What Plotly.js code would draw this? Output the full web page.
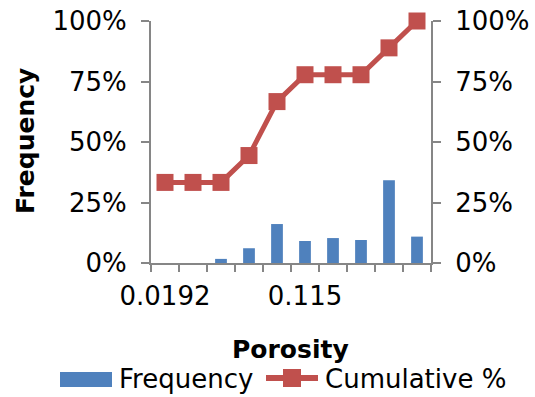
<!DOCTYPE html>
<html><head><meta charset="utf-8">
<script src="https://cdn.plot.ly/plotly-3.0.1.min.js"></script>
<style>html,body{margin:0;padding:0;background:#fff}#chart{width:535px;height:397px}</style>
</head><body><div id="chart"></div>
<script>
const categories = ['0.0192','0.0384','0.0575','0.0767','0.0958','0.115','0.134','0.153','0.172','0.192'];
const frequency = [0, 0, 0.017, 0.061, 0.161, 0.091, 0.103, 0.095, 0.342, 0.109];
const cumulative = [0.333, 0.333, 0.333, 0.444, 0.667, 0.778, 0.778, 0.778, 0.889, 1.0];
const tickLabelIdx = [0, 5];
const seriesNames = ['Frequency', 'Cumulative %'];

const idx = categories.map((c, i) => i);
const axisColor = '#868686';
const blue = '#4F81BD', red = '#C0504D';
const font = {family: 'Verdana, "DejaVu Sans", sans-serif', size: 26, color: '#000'};
const boldFont = Object.assign({}, font, {size: 25});

// plot area in pixels: x 151..431, y 21..263
const L = 151, R = 431, T = 21, B = 263;
const px = v => (v - L) / (R - L);
const py = v => (B - v) / (B - T);

const traces = [
  {type: 'bar', name: seriesNames[0], x: idx, y: frequency, width: 0.42,
   marker: {color: blue}, yaxis: 'y', hovertext: categories, showlegend: false},
  {type: 'scatter', mode: 'lines+markers', name: seriesNames[1], x: idx, y: cumulative,
   line: {color: red, width: 5}, marker: {symbol: 'square', size: 17, color: red},
   yaxis: 'y2', showlegend: false, cliponaxis: false}
];

const yCommon = {range: [0, 1], tickvals: [0, 0.25, 0.5, 0.75, 1], tickformat: '.0%',
  showgrid: false, zeroline: false, showline: true, linecolor: axisColor, linewidth: 2,
  ticks: 'outside', ticklen: 8, tickwidth: 2, tickcolor: axisColor, tickfont: font,
  ticklabelstandoff: 9, fixedrange: true};

const legY = 378;
const layout = {
  width: 535, height: 397,
  margin: {l: L, r: 535 - R, t: T, b: 397 - B},
  paper_bgcolor: '#fff', plot_bgcolor: '#fff',
  font: font,
  showlegend: false,
  xaxis: {range: [-0.5, 9.5], tickvals: tickLabelIdx, ticktext: tickLabelIdx.map(i => categories[i]),
    ticks: '', showgrid: false, zeroline: false, showline: true, linecolor: axisColor, linewidth: 2,
    tickfont: font, ticklabelstandoff: 9,
    minor: {ticks: 'outside', tick0: -0.5, dtick: 1, ticklen: 7, tickwidth: 2, tickcolor: axisColor, showgrid: false}},
  yaxis: yCommon,
  yaxis2: Object.assign({}, yCommon, {overlaying: 'y', side: 'right'}),
  shapes: [
    {type: 'rect', xref: 'paper', yref: 'paper', x0: px(60), x1: px(112), y0: py(387), y1: py(372),
     fillcolor: blue, line: {width: 0}},
    {type: 'line', xref: 'paper', yref: 'paper', x0: px(266), x1: px(318), y0: py(legY), y1: py(legY),
     line: {color: red, width: 6}},
    {type: 'rect', xref: 'paper', yref: 'paper', x0: px(283), x1: px(301), y0: py(387), y1: py(369),
     fillcolor: red, line: {width: 0}}
  ],
  annotations: [
    {text: '<b>Porosity</b>', xref: 'paper', yref: 'paper', x: px(290), y: py(349),
     xanchor: 'center', yanchor: 'middle', showarrow: false, font: boldFont},
    {text: '<b>Frequency</b>', xref: 'paper', yref: 'paper', x: px(25), y: py(141), textangle: -90,
     xanchor: 'center', yanchor: 'middle', showarrow: false, font: boldFont},
    {text: seriesNames[0], xref: 'paper', yref: 'paper', x: px(117), y: py(legY + 1),
     xanchor: 'left', yanchor: 'middle', showarrow: false, font: font},
    {text: seriesNames[1], xref: 'paper', yref: 'paper', x: px(323), y: py(legY + 1),
     xanchor: 'left', yanchor: 'middle', showarrow: false, font: font}
  ]
};

Plotly.newPlot('chart', traces, layout, {displayModeBar: false, staticPlot: true});
</script></body></html>
